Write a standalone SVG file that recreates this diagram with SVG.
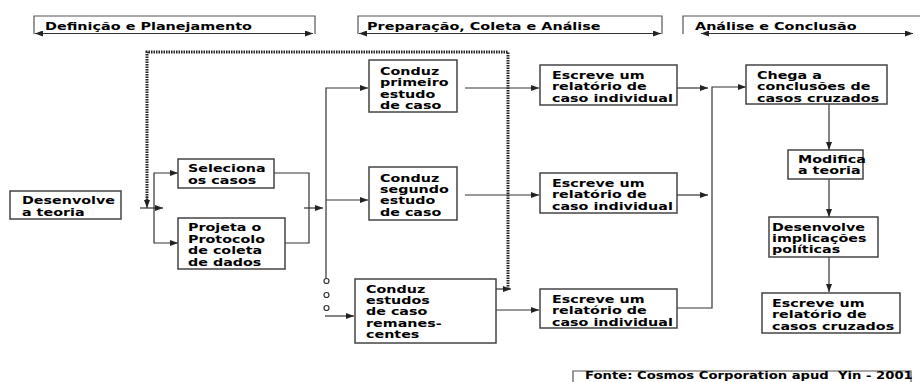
<svg xmlns="http://www.w3.org/2000/svg" width="920" height="382" viewBox="0 0 920 382">
<style>
.t{font-family:"DejaVu Sans","Verdana",sans-serif;font-weight:bold;font-size:11px;fill:#000}
.f{font-size:10px}
.box{fill:#fff;stroke:#444;stroke-width:1.5}
.ln{fill:none;stroke:#333;stroke-width:1.2}
.hd{fill:none;stroke:#555;stroke-width:1.2}
.dot{fill:none;stroke:#222;stroke-width:3;stroke-dasharray:1.5 1}
.c{fill:#fff;stroke:#333;stroke-width:1.2}
</style>
<defs>
<marker id="a" viewBox="0 0 8 6" refX="8" refY="3" markerWidth="8" markerHeight="6" markerUnits="userSpaceOnUse" orient="auto"><path d="M0,0 L8,3 L0,6 Z" fill="#222"/></marker>
<marker id="as" viewBox="0 0 8 6" refX="8" refY="3" markerWidth="8" markerHeight="6" markerUnits="userSpaceOnUse" orient="auto-start-reverse"><path d="M0,0 L8,3 L0,6 Z" fill="#222"/></marker>
</defs>

<g id="phase1">
<path class="hd" d="M34,34 V16 H315 V34"/>
<path class="ln" d="M35,33.5 H313" marker-start="url(#as)" marker-end="url(#as)"/>
<text class="t" transform="translate(45,29.5) scale(1.31,1)">Definição e Planejamento</text>
</g>
<g id="phase2">
<path class="hd" d="M358,34 V16 H662 V34"/>
<path class="ln" d="M359,33.5 H661" marker-start="url(#as)" marker-end="url(#as)"/>
<text class="t" transform="translate(367,29.5) scale(1.31,1)">Preparação, Coleta e Análise</text>
</g>
<g id="phase3">
<path class="hd" d="M683,34 V16 H921"/>
<path class="ln" d="M701,33.5 H913" marker-start="url(#as)" marker-end="url(#as)"/>
<text class="t" transform="translate(695,29.5) scale(1.31,1)">Análise e Conclusão</text>
</g>

<g id="connectors">
<path class="dot" d="M508,289 V52 H147 V200"/>
<path class="ln" d="M147,196 V208" marker-end="url(#a)"/>
<path class="ln" d="M496,289 H511" marker-end="url(#a)"/>
<path class="ln" d="M140,208 H163" marker-end="url(#a)"/>
<path class="ln" d="M154,208 V173 H178" marker-end="url(#a)"/>
<path class="ln" d="M154,208 V243 H178" marker-end="url(#a)"/>
<path class="ln" d="M274,173 H309 V243 H285"/>
<path class="ln" d="M304,208 H323" marker-end="url(#a)"/>
<path class="ln" d="M326,278 V88 H368" marker-end="url(#a)"/>
<path class="ln" d="M326,200 H368" marker-end="url(#a)"/>
<circle class="c" cx="326.5" cy="281" r="2.5"/>
<circle class="c" cx="326.5" cy="295" r="2.5"/>
<circle class="c" cx="326.5" cy="308" r="2.5"/>
<path class="ln" d="M325,316 H354" marker-end="url(#a)"/>
<path class="ln" d="M465,88 H539" marker-end="url(#a)"/>
<path class="ln" d="M465,195 H539" marker-end="url(#a)"/>
<path class="ln" d="M496,310 H539" marker-end="url(#a)"/>
<path class="ln" d="M677,88 H708" marker-end="url(#a)"/>
<path class="ln" d="M677,195 H708" marker-end="url(#a)"/>
<path class="ln" d="M677,308 H712 V87 H746" marker-end="url(#a)"/>
<path class="ln" d="M829,104 V150" marker-end="url(#a)"/>
<path class="ln" d="M829,179 V217" marker-end="url(#a)"/>
<path class="ln" d="M829,257 V292" marker-end="url(#a)"/>
</g>

<g id="n-desenvolve">
<rect class="box" x="10" y="191" width="111" height="28"/>
<text class="t" transform="translate(22,204) scale(1.3,1)"><tspan x="0" y="0">Desenvolve</tspan><tspan x="0" y="11.7">a teoria</tspan></text>
</g>
<g id="n-seleciona">
<rect class="box" x="178" y="159" width="96" height="29"/>
<text class="t" transform="translate(188,172) scale(1.3,1)"><tspan x="0" y="0">Seleciona</tspan><tspan x="0" y="11.6">os casos</tspan></text>
</g>
<g id="n-projeta">
<rect class="box" x="178" y="218" width="107" height="51"/>
<text class="t" transform="translate(188,231) scale(1.3,1)"><tspan x="0" y="0">Projeta o</tspan><tspan x="0" y="11.6">Protocolo</tspan><tspan x="0" y="23.2">de coleta</tspan><tspan x="0" y="34.8">de dados</tspan></text>
</g>
<g id="n-conduz1">
<rect class="box" x="369" y="60" width="88" height="52"/>
<text class="t" transform="translate(380,75) scale(1.3,1)"><tspan x="0" y="0">Conduz</tspan><tspan x="0" y="11.4">primeiro</tspan><tspan x="0" y="22.8">estudo</tspan><tspan x="0" y="34.2">de caso</tspan></text>
</g>
<g id="n-conduz2">
<rect class="box" x="369" y="167" width="88" height="53"/>
<text class="t" transform="translate(380,181.5) scale(1.3,1)"><tspan x="0" y="0">Conduz</tspan><tspan x="0" y="11.4">segundo</tspan><tspan x="0" y="22.8">estudo</tspan><tspan x="0" y="34.2">de caso</tspan></text>
</g>
<g id="n-conduz3">
<rect class="box" x="355" y="279" width="141" height="64"/>
<text class="t" transform="translate(366,292.7) scale(1.3,1)"><tspan x="0" y="0">Conduz</tspan><tspan x="0" y="11.4">estudos</tspan><tspan x="0" y="22.8">de caso</tspan><tspan x="0" y="34.2">remanes-</tspan><tspan x="0" y="45.6">centes</tspan></text>
</g>
<g id="n-escreve1">
<rect class="box" x="540" y="65" width="137" height="40"/>
<text class="t" transform="translate(552,78.5) scale(1.3,1)"><tspan x="0" y="0">Escreve um</tspan><tspan x="0" y="11.7">relatório de</tspan><tspan x="0" y="23.4">caso individual</tspan></text>
</g>
<g id="n-escreve2">
<rect class="box" x="540" y="173" width="137" height="40"/>
<text class="t" transform="translate(552,186.5) scale(1.3,1)"><tspan x="0" y="0">Escreve um</tspan><tspan x="0" y="11.7">relatório de</tspan><tspan x="0" y="23.4">caso individual</tspan></text>
</g>
<g id="n-escreve3">
<rect class="box" x="540" y="289" width="137" height="39"/>
<text class="t" transform="translate(552,302.5) scale(1.3,1)"><tspan x="0" y="0">Escreve um</tspan><tspan x="0" y="11.7">relatório de</tspan><tspan x="0" y="23.4">caso individual</tspan></text>
</g>
<g id="n-chega">
<rect class="box" x="746" y="65" width="141" height="39"/>
<text class="t" transform="translate(757,78.5) scale(1.3,1)"><tspan x="0" y="0">Chega a</tspan><tspan x="0" y="11.7">conclusões de</tspan><tspan x="0" y="23.4">casos cruzados</tspan></text>
</g>
<g id="n-modifica">
<rect class="box" x="788" y="150" width="75" height="29"/>
<text class="t" transform="translate(798,162.8) scale(1.3,1)"><tspan x="0" y="0">Modifica</tspan><tspan x="0" y="11.6">a teoria</tspan></text>
</g>
<g id="n-implicacoes">
<rect class="box" x="769" y="217" width="109" height="40"/>
<text class="t" transform="translate(772,230.5) scale(1.3,1)"><tspan x="0" y="0">Desenvolve</tspan><tspan x="0" y="11.5">implicações</tspan><tspan x="0" y="23">políticas</tspan></text>
</g>
<g id="n-relatorio-cruzado">
<rect class="box" x="762" y="293" width="138" height="40"/>
<text class="t" transform="translate(772,306.5) scale(1.3,1)"><tspan x="0" y="0">Escreve um</tspan><tspan x="0" y="11.7">relatório de</tspan><tspan x="0" y="23.4">casos cruzados</tspan></text>
</g>
<g id="fonte">
<path class="hd" d="M573,383 V371 H911 V383"/>
<text class="t f" transform="translate(585,379.2) scale(1.32,1)" xml:space="preserve">Fonte: Cosmos Corporation apud  Yin - 2001</text>
</g>
</svg>
